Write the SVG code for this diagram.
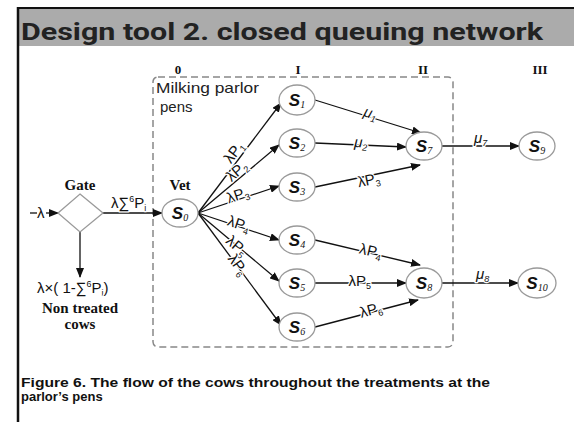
<svg xmlns="http://www.w3.org/2000/svg" width="574" height="422" viewBox="0 0 574 422">
<defs>
<marker id="ah" markerWidth="10" markerHeight="8" refX="9" refY="4" orient="auto" markerUnits="userSpaceOnUse">
<path d="M0,0 L10,4 L0,8 z" fill="#111"/>
</marker>
<style>
.node{fill:#fff;stroke:#9a9a9a;stroke-width:1.3}
.edge{stroke:#111;stroke-width:1.3;fill:none}
.s{font-family:"Liberation Sans",Arial,sans-serif;font-weight:bold;font-style:italic;font-size:17px;fill:#111}
.sub{font-family:"Liberation Serif",serif;font-style:italic;font-weight:normal;font-size:10px}
.lbl{font-family:"Liberation Sans",Arial,sans-serif;font-size:15px;fill:#111;stroke:#fff;stroke-width:2.5px;paint-order:stroke;stroke-linejoin:round}
.ls{font-size:9px}
.hdr{font-family:"Liberation Serif",serif;font-weight:bold;font-size:13px;fill:#111;text-anchor:middle}
.bl{font-family:"Liberation Serif",serif;font-weight:bold;font-size:15px;fill:#111;text-anchor:middle}
.cap{font-family:"Liberation Sans",Arial,sans-serif;font-weight:bold;font-size:13px;fill:#111}
</style>
</defs>
<rect x="0" y="0" width="574" height="422" fill="#fff"/>
<!-- frame -->
<rect x="19" y="9" width="555" height="37" fill="#ababab"/>
<line x1="17" y1="8" x2="574" y2="8" stroke="#111" stroke-width="2"/>
<line x1="18" y1="7" x2="18" y2="422" stroke="#111" stroke-width="2.5"/>
<text x="21" y="40" font-family="Roboto,'Liberation Sans',Arial,sans-serif" font-weight="bold" font-size="24" fill="#222" textLength="522" lengthAdjust="spacingAndGlyphs">Design tool 2. closed queuing network</text>

<!-- column headers -->
<text class="hdr" x="178" y="74">0</text>
<text class="hdr" x="298" y="74">I</text>
<text class="hdr" x="423" y="74">II</text>
<text class="hdr" x="540" y="74">III</text>

<!-- dashed pen box -->
<rect x="153" y="77" width="300" height="270" rx="5" fill="none" stroke="#888" stroke-width="1.5" stroke-dasharray="7,4"/>
<text x="156" y="93" font-family="'Liberation Sans',Arial,sans-serif" font-size="15" fill="#222" textLength="103" lengthAdjust="spacingAndGlyphs">Milking parlor</text>
<text x="160" y="112" font-family="'Liberation Sans',Arial,sans-serif" font-size="15" fill="#222">pens</text>

<g id="connectors">
<line class="edge" x1="30" y1="213" x2="37" y2="213"/>
<line class="edge" x1="46" y1="213" x2="58" y2="213" marker-end="url(#ah)"/>
<line class="edge" x1="103" y1="213" x2="162" y2="213" marker-end="url(#ah)"/>
<line class="edge" x1="80" y1="232" x2="80" y2="277" marker-end="url(#ah)"/>
<line class="edge" x1="198" y1="213" x2="281" y2="103" marker-end="url(#ah)"/>
<line class="edge" x1="198" y1="213" x2="279" y2="145" marker-end="url(#ah)"/>
<line class="edge" x1="198" y1="213" x2="279" y2="186" marker-end="url(#ah)"/>
<line class="edge" x1="198" y1="213" x2="279" y2="240" marker-end="url(#ah)"/>
<line class="edge" x1="198" y1="213" x2="279" y2="281" marker-end="url(#ah)"/>
<line class="edge" x1="198" y1="213" x2="281" y2="325" marker-end="url(#ah)"/>
<line class="edge" x1="315" y1="100" x2="421" y2="133" marker-end="url(#ah)"/>
<line class="edge" x1="315" y1="143" x2="406" y2="147" marker-end="url(#ah)"/>
<line class="edge" x1="315" y1="187" x2="420" y2="165" marker-end="url(#ah)"/>
<line class="edge" x1="315" y1="240" x2="420" y2="265" marker-end="url(#ah)"/>
<line class="edge" x1="315" y1="283" x2="406" y2="283" marker-end="url(#ah)"/>
<line class="edge" x1="315" y1="327" x2="418" y2="300" marker-end="url(#ah)"/>
<line class="edge" x1="442" y1="146" x2="519" y2="146" marker-end="url(#ah)"/>
<line class="edge" x1="442" y1="283" x2="518" y2="283" marker-end="url(#ah)"/>
</g>

<g id="edge-labels">
<text class="lbl" x="37" y="218">λ</text>
<text class="lbl" x="111" y="208">λ∑<tspan class="ls" dy="-6">6</tspan><tspan dy="6">P</tspan><tspan class="ls" dy="3">i</tspan></text>
<text class="lbl" transform="translate(231.1,164.2) rotate(-53)">λP<tspan class="ls" dy="3">1</tspan></text>
<text class="lbl" transform="translate(231.4,182.3) rotate(-40.4)">λP<tspan class="ls" dy="3">2</tspan></text>
<text class="lbl" transform="translate(228.7,203.4) rotate(-18.6)">λP<tspan class="ls" dy="3">3</tspan></text>
<text class="lbl" transform="translate(226.5,225) rotate(18.6)">λP<tspan class="ls" dy="3">4</tspan></text>
<text class="lbl" transform="translate(225,242.3) rotate(40.4)">λP<tspan class="ls" dy="3">5</tspan></text>
<text class="lbl" transform="translate(227.2,258.7) rotate(53.8)">λP<tspan class="ls" dy="3">6</tspan></text>
<text class="lbl" font-style="italic" transform="translate(362.8,116) rotate(17.1)">μ<tspan class="ls" dy="3">1</tspan></text>
<text class="lbl" font-style="italic" transform="translate(354,147) rotate(3.1)">μ<tspan class="ls" dy="3">2</tspan></text>
<text class="lbl" transform="translate(358.7,187.3) rotate(-11.8)">λP<tspan class="ls" dy="3">3</tspan></text>
<text class="lbl" transform="translate(358.6,253.2) rotate(13.4)">λP<tspan class="ls" dy="3">4</tspan></text>
<text class="lbl" transform="translate(348.5,286)">λP<tspan class="ls" dy="3">5</tspan></text>
<text class="lbl" transform="translate(361.2,317.7) rotate(-14.7)">λP<tspan class="ls" dy="3">6</tspan></text>
<text class="lbl" font-style="italic" x="474" y="143">μ<tspan class="ls" dy="3">7</tspan></text>
<text class="lbl" font-style="italic" x="476" y="279">μ<tspan class="ls" dy="3">8</tspan></text>
</g>

<g id="gate">
<polygon points="80,194 103,213 80,232 58,213" fill="#fff" stroke="#9a9a9a" stroke-width="1.3"/>
<text class="bl" x="80" y="190">Gate</text>
</g>

<g id="non-treated">
<text class="lbl" x="37" y="293" font-size="17">λ×( 1-∑<tspan class="ls" dy="-6">6</tspan><tspan dy="6">P</tspan><tspan class="ls" dy="3">i</tspan><tspan dy="-3">)</tspan></text>
<text class="bl" x="80" y="313">Non treated</text>
<text class="bl" x="80" y="329">cows</text>
</g>

<g id="S0">
<ellipse class="node" cx="180" cy="213" rx="18" ry="14"/>
<text class="bl" x="180" y="190">Vet</text>
<text class="s" x="180" y="219" text-anchor="middle">S<tspan class="sub" dy="2">0</tspan></text>
</g>
<g id="S1"><ellipse class="node" cx="297" cy="100" rx="18" ry="15"/><text class="s" x="297" y="106" text-anchor="middle">S<tspan class="sub" dy="2">1</tspan></text></g>
<g id="S2"><ellipse class="node" cx="297" cy="143" rx="18" ry="14"/><text class="s" x="297" y="149" text-anchor="middle">S<tspan class="sub" dy="2">2</tspan></text></g>
<g id="S3"><ellipse class="node" cx="297" cy="187" rx="18" ry="14"/><text class="s" x="297" y="193" text-anchor="middle">S<tspan class="sub" dy="2">3</tspan></text></g>
<g id="S4"><ellipse class="node" cx="297" cy="240" rx="18" ry="14"/><text class="s" x="297" y="246" text-anchor="middle">S<tspan class="sub" dy="2">4</tspan></text></g>
<g id="S5"><ellipse class="node" cx="297" cy="283" rx="18" ry="14"/><text class="s" x="297" y="289" text-anchor="middle">S<tspan class="sub" dy="2">5</tspan></text></g>
<g id="S6"><ellipse class="node" cx="297" cy="327" rx="18" ry="14"/><text class="s" x="297" y="333" text-anchor="middle">S<tspan class="sub" dy="2">6</tspan></text></g>
<g id="S7"><ellipse class="node" cx="424" cy="146" rx="18" ry="14"/><text class="s" x="424" y="152" text-anchor="middle">S<tspan class="sub" dy="2">7</tspan></text></g>
<g id="S8"><ellipse class="node" cx="424" cy="283" rx="18" ry="15"/><text class="s" x="424" y="289" text-anchor="middle">S<tspan class="sub" dy="2">8</tspan></text></g>
<g id="S9"><ellipse class="node" cx="537" cy="146" rx="18" ry="14"/><text class="s" x="537" y="152" text-anchor="middle">S<tspan class="sub" dy="2">9</tspan></text></g>
<g id="S10"><ellipse class="node" cx="537" cy="283" rx="19" ry="15"/><text class="s" x="537" y="289" text-anchor="middle">S<tspan class="sub" dy="2">10</tspan></text></g>

<text class="cap" x="21" y="387" textLength="469" lengthAdjust="spacingAndGlyphs">Figure 6.  The flow of the cows throughout the treatments at the</text>
<text class="cap" x="21" y="401">parlor’s pens</text>
</svg>
